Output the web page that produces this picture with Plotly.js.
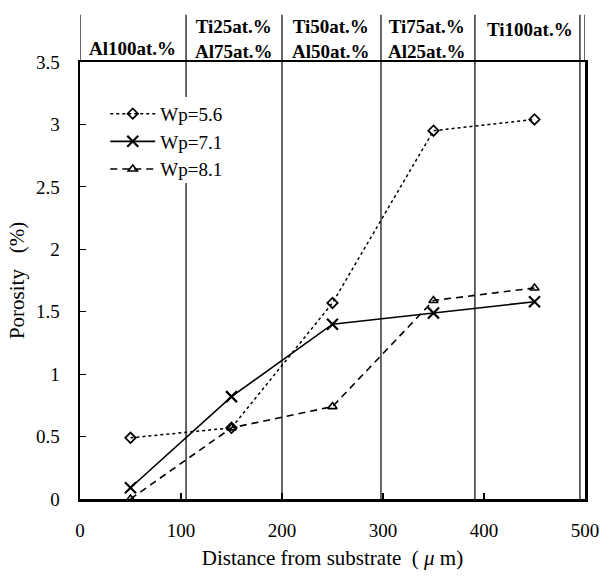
<!DOCTYPE html>
<html>
<head>
<meta charset="utf-8">
<script src="https://cdn.plot.ly/plotly-3.0.1.min.js"></script>
<style>html,body{margin:0;padding:0;background:#fff;}#chart{width:600px;height:577px;}</style>
</head>
<body>
<div id="chart"></div>
<script>
// ---- data ----
const distance = [50, 150, 250, 350, 450];
const wp56 = [0.49, 0.57, 1.57, 2.95, 3.04];
const wp71 = [0.09, 0.82, 1.40, 1.49, 1.58];
const wp81 = [0.00, 0.57, 0.74, 1.59, 1.69];
const seriesNames = ['Wp=5.6', 'Wp=7.1', 'Wp=8.1'];
const layerBounds = [105, 200, 298, 391, 495];
const layerCenters = [52, 152, 249, 344, 446];
const layerLabels = ['Al100at.%', 'Ti25at.%<br>Al75at.%', 'Ti50at.%<br>Al50at.%', 'Ti75at.%<br>Al25at.%', 'Ti100at.%'];
const xTicks = [0, 100, 200, 300, 400, 500];
const yTicks = [0, 0.5, 1, 1.5, 2, 2.5, 3, 3.5];

const FONT = '"Liberation Serif", "Times New Roman", serif';

const traces = [
  {x: distance, y: wp56, name: seriesNames[0], mode: 'lines+markers', cliponaxis: false,
   line: {color: '#000', width: 1.5, dash: 'dot'},
   marker: {symbol: 'diamond-open', size: 8, color: '#000', line: {width: 1.8, color: '#000'}}},
  {x: distance, y: wp71, name: seriesNames[1], mode: 'lines+markers', cliponaxis: false,
   line: {color: '#000', width: 1.6, dash: 'solid'},
   marker: {symbol: 'x-thin-open', size: 11, color: '#000', line: {width: 2.2, color: '#000'}}},
  {x: distance, y: wp81, name: seriesNames[2], mode: 'lines+markers', cliponaxis: false,
   line: {color: '#000', width: 1.6, dash: '7px,5px'},
   marker: {symbol: 'triangle-up-open', size: 8, color: '#000', line: {width: 1.6, color: '#000'}}}
];

const shapes = [];
layerBounds.forEach((b, i) => {
  if (i === 0) {
    shapes.push({type: 'line', xref: 'x', yref: 'paper', x0: b, x1: b, y0: 0, y1: 0.723, line: {color: '#000', width: 1.2}});
    shapes.push({type: 'line', xref: 'x', yref: 'paper', x0: b, x1: b, y0: 0.92, y1: 1.108, line: {color: '#000', width: 1.2}});
  } else {
    shapes.push({type: 'line', xref: 'x', yref: 'paper', x0: b, x1: b, y0: 0, y1: 1.108, line: {color: '#000', width: 1.2}});
  }
});
// header extension of outer borders
shapes.push({type: 'line', xref: 'x', yref: 'paper', x0: 0, x1: 0, y0: 1, y1: 1.108, line: {color: '#000', width: 1.2}});
shapes.push({type: 'line', xref: 'x', yref: 'paper', x0: 500, x1: 500, y0: 1, y1: 1.108, line: {color: '#000', width: 1.2}});

const annotations = layerLabels.map((t, i) => {
  const two = t.indexOf('<br>') >= 0;
  let y = two ? 1.052 : 1.030;
  if (i === layerLabels.length - 1) y = 1.074;
  return {text: '<b>' + t + '</b>', x: layerCenters[i], xref: 'x', y: y, yref: 'paper',
          xanchor: 'center', yanchor: 'middle', showarrow: false,
          font: {family: FONT, size: 19, color: '#000'}};
});

const layout = {
  width: 600, height: 577,
  margin: {l: 80, r: 15, t: 62, b: 78},
  paper_bgcolor: '#fff', plot_bgcolor: '#fff',
  font: {family: FONT, color: '#000', size: 19},
  showlegend: true,
  legend: {x: 0.05, y: 0.925, xanchor: 'left', yanchor: 'top', bgcolor: 'rgba(0,0,0,0)',
           font: {family: FONT, size: 19, color: '#000'}, itemwidth: 45, tracegroupgap: 0},
  xaxis: {range: [0, 500], tickvals: xTicks, ticktext: xTicks.map(String), ticks: 'inside', ticklen: 6, tickwidth: 1.2,
          tickcolor: '#000', showline: true, linewidth: 2.5, linecolor: '#000', mirror: true, showgrid: false, zeroline: false,
          ticklabelstandoff: 13, ticklabeloverflow: 'allow',
          tickfont: {family: FONT, size: 19, color: '#000'},
          title: {text: 'Distance from substrate\u00a0\u00a0(\u00a0<i>\u03bc</i>\u00a0m)', font: {family: FONT, size: 21, color: '#000'}, standoff: 10}},
  yaxis: {range: [0, 3.5], tickvals: yTicks, ticktext: yTicks.map(String), ticks: 'inside', ticklen: 6, tickwidth: 1.2,
          tickcolor: '#000', showline: true, linewidth: 2.5, linecolor: '#000', mirror: true, showgrid: false, zeroline: false,
          ticklabelstandoff: 14, ticklabeloverflow: 'allow',
          tickfont: {family: FONT, size: 19, color: '#000'},
          title: {text: 'Porosity\u00a0\u00a0\u00a0(%)', font: {family: FONT, size: 21, color: '#000'}, standoff: 6}},
  shapes: shapes,
  annotations: annotations
};

Plotly.newPlot('chart', traces, layout, {displayModeBar: false, staticPlot: true});
</script>
</body>
</html>
